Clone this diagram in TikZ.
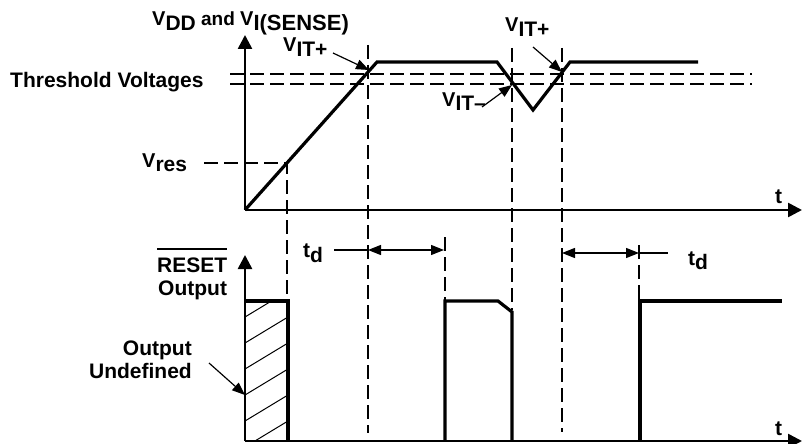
\documentclass[tikz,border=0pt]{standalone}
\usepackage{fontspec}
\setmainfont{Liberation Sans}
\usetikzlibrary{arrows.meta}
\newcommand\Vs[1]{{\fontsize{20}{20}\selectfont V}\raisebox{-4.5pt}{#1}}
\begin{document}
\begin{tikzpicture}[x=1pt,y=-1pt,
 lbl/.style={inner sep=0pt,font=\bfseries\fontsize{21}{23}\selectfont},
 sig/.style={line width=3.2pt, line join=miter},
 axis/.style={line width=2.6pt,-{Triangle[length=14pt,width=14pt]}},
 guide/.style={line width=1.1pt, dash pattern=on 14pt off 6pt},
 tri/.style={line width=1.2pt,-{Triangle[length=13pt,width=10pt]}},
 dim/.style={line width=1.2pt,{Triangle[length=13pt,width=10pt]}-{Triangle[length=13pt,width=10pt]}},
]
\useasboundingbox (0,0) rectangle (803,444);
% axes
\coordinate (o1) at (245,210);
\coordinate (y1) at (245,35);
\coordinate (x1) at (802,210);
\coordinate (o2) at (245,441);
\coordinate (y2) at (245,255);
\coordinate (x2) at (802,441);
% guide lines
\draw[guide] (230,74) -- (752,74);
\draw[guide] (230,84) -- (752,84);
\draw[guide] (204,163) -- (287,163) -- (287,301);
\draw[guide] (368,45) -- (368,433);
\draw[guide] (445,237) -- (445,301);
\draw[guide] (512,48) -- (512,310);
\draw[guide] (562,48) -- (562,432);
\draw[guide] (639,245) -- (639,301);
% hatch
\begin{scope}
\clip (245,301) rectangle (288,441);
\foreach \k in {0,...,5} \draw[line width=1pt] (245,317+\k*26) -- (288,291+\k*26);
\end{scope}
\draw[sig] (245,301) -- (288,301) -- (288,441);
% axes draw
\draw[axis] (o1) -- (y1);
\draw[axis] (o1) -- (x1);
\draw[axis] (o2) -- (y2);
\draw[axis] (o2) -- (x2);
% signals
\draw[sig] (o1) -- (377,62) -- (497,62) -- (533,110) -- (570,62) -- (698,62);
\draw[sig] (445,441) -- (445,301) -- (498,301) -- (512,312) -- (512,441);
\draw[sig] (640,441) -- (640,301) -- (782,301);
% labels
\node[lbl,anchor=base west] (vdd) at (152,26) {\Vs{DD}{\fontsize{19}{19}\selectfont\ and }\Vs{\fontsize{22}{22}\selectfont I(SENSE)}};
\node[lbl,anchor=base west] (vit1) at (283,52) {\Vs{IT+}};
\node[lbl,anchor=base west] (thr) at (10,87) {Threshold Voltages};
\node[lbl,anchor=base west] (vres) at (142,167) {\Vs{res}};
\node[lbl,anchor=base west] (vit2) at (505,32) {\Vs{IT+}};
\node[lbl,anchor=base west] (vitm) at (442,106) {\Vs{IT–}};
\node[lbl,anchor=base west] (reset) at (157,272) {RESET};
\draw[line width=2pt] ([yshift=8pt]reset.north west) -- ([yshift=8pt]reset.north east);
\node[lbl,anchor=base west] (out1) at (158,295) {Output};
\node[lbl,anchor=base east] (out2) at (192,355) {Output};
\node[lbl,anchor=base east] (undef) at (192,378) {Undefined};
\node[lbl,anchor=base west] (td1) at (303,257) {t\raisebox{-5pt}{d}};
\node[lbl,anchor=base west] (td2) at (688,265) {t\raisebox{-4pt}{d}};
\node[lbl,anchor=base west] (t1) at (775,203) {t};
\node[lbl,anchor=base west] (t2) at (775,435) {t};
% pointer arrows
\coordinate (a1s) at (333,53); \coordinate (a1e) at (369,70);
\draw[tri] (a1s) -- (a1e);
\coordinate (a2s) at (533,47); \coordinate (a2e) at (562,72);
\draw[tri] (a2s) -- (a2e);
\coordinate (a3s) at (482,107); \coordinate (a3e) at (512,85);
\draw[tri] (a3s) -- (a3e);
\coordinate (a4s) at (209,363); \coordinate (a4e) at (245,395);
\draw[tri] (a4s) -- (a4e);
% td dimension arrows
\coordinate (d1l) at (334,250); \coordinate (d1a) at (368,250); \coordinate (d1b) at (444,250);
\draw[line width=1.2pt] (d1l) -- (d1a);
\draw[dim] (d1a) -- (d1b);
\coordinate (d2a) at (562,253); \coordinate (d2b) at (639,253); \coordinate (d2r) at (668,253);
\draw[dim] (d2a) -- (d2b);
\draw[line width=1.2pt] (d2b) -- (d2r);
\end{tikzpicture}
\end{document}
